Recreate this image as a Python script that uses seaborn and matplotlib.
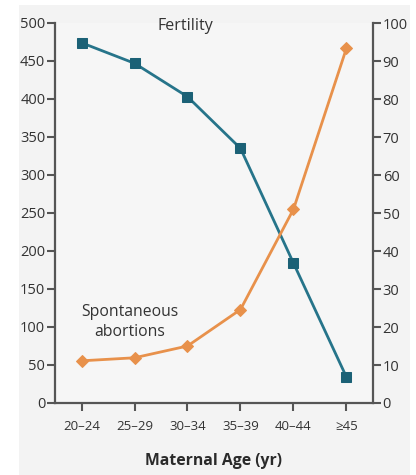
import matplotlib
matplotlib.use("Agg")
import matplotlib.pyplot as plt
import seaborn as sns
import pandas as pd
from matplotlib.patches import Rectangle

# Data
age_groups = ["20\u201324", "25\u201329", "30\u201334", "35\u201339", "40\u201344", "\u226545"]
fertility = [474, 447, 403, 335, 184, 34]          # left axis
abortions = [11.1, 11.9, 15.0, 24.6, 51.0, 93.4]   # right axis (%)
left_ticks = [0, 50, 100, 150, 200, 250, 300, 350, 400, 450, 500]
right_ticks = [0, 10, 20, 30, 40, 50, 60, 70, 80, 90, 100]

sns.set_theme(style="white")
plt.rcParams["font.family"] = ["Open Sans", "DejaVu Sans"]

TEAL = "#26748a"
TEAL_M = "#1b6176"
ORANGE = "#e8914b"
SPINE = "#555555"
TXT = "#333333"
BG = "#f3f3f3"

fig = plt.figure(figsize=(4.16, 4.75), dpi=100, facecolor=BG)
W, H = 416, 475

ax = fig.add_axes([55 / W, 1 - 403 / H, (373 - 55) / W, (403 - 23) / H])
ax.set_facecolor("#f6f6f6")
ax2 = ax.twinx()

df = pd.DataFrame({"age": age_groups, "fertility": fertility, "abortions": abortions})

sns.lineplot(data=df, x="age", y="fertility", ax=ax, color=TEAL, linewidth=2,
             marker="s", markersize=7, markerfacecolor=TEAL_M,
             markeredgecolor=TEAL_M, sort=False)
sns.lineplot(data=df, x="age", y="abortions", ax=ax2, color=ORANGE, linewidth=2,
             marker="D", markersize=6, markerfacecolor=ORANGE,
             markeredgecolor=ORANGE, sort=False)

ax.set_xlim(-0.5, 5.5)
ax.set_ylim(0, 500)
ax2.set_ylim(0, 100)
ax.set_yticks(left_ticks)
ax2.set_yticks(right_ticks)
ax.set_xticks(range(len(age_groups)))
ax.set_xticklabels(age_groups)

for a in (ax, ax2):
    a.spines["top"].set_visible(False)
    for s in ("left", "right", "bottom"):
        a.spines[s].set_color(SPINE)
        a.spines[s].set_linewidth(1.6)
    a.set_ylabel("")
    a.set_xlabel("")
ax.spines["right"].set_visible(False)
ax2.spines["left"].set_visible(False)
ax2.spines["bottom"].set_visible(False)

ax.tick_params(axis="y", which="major", direction="out", length=6, width=1.5,
               color=SPINE, labelsize=10.5, labelcolor=TXT, pad=1, left=True)
ax.tick_params(axis="x", which="major", direction="out", length=6, width=1.5,
               color=SPINE, labelsize=9.5, labelcolor=TXT, pad=6, bottom=True)
ax2.tick_params(axis="y", which="major", direction="out", length=6, width=1.5,
                color=SPINE, labelsize=10.5, labelcolor=TXT, pad=1, right=True)

fig.text(214 / W, 1 - 461 / H, "Maternal Age (yr)", ha="center", va="center",
         fontsize=11.3, fontweight="bold", color="#2a2a2a")

fig.text(185 / W, 1 - 26 / H, "Fertility", ha="center", va="center",
         fontsize=11.5, color=TXT)
fig.text(130 / W, 1 - 322 / H, "Spontaneous\nabortions", ha="center",
         va="center", fontsize=11.3, color=TXT, linespacing=1.3)

# white margins around the light panel
for x0, y0, w, h in [(0, 0, 19, H), (410, 0, W - 410, H), (0, 0, W, 5)]:
    fig.patches.append(Rectangle((x0 / W, 1 - (y0 + h) / H), w / W, h / H,
                                 transform=fig.transFigure, facecolor="white",
                                 edgecolor="none", zorder=10))

fig.savefig("out.png", dpi=100, facecolor=fig.get_facecolor())
